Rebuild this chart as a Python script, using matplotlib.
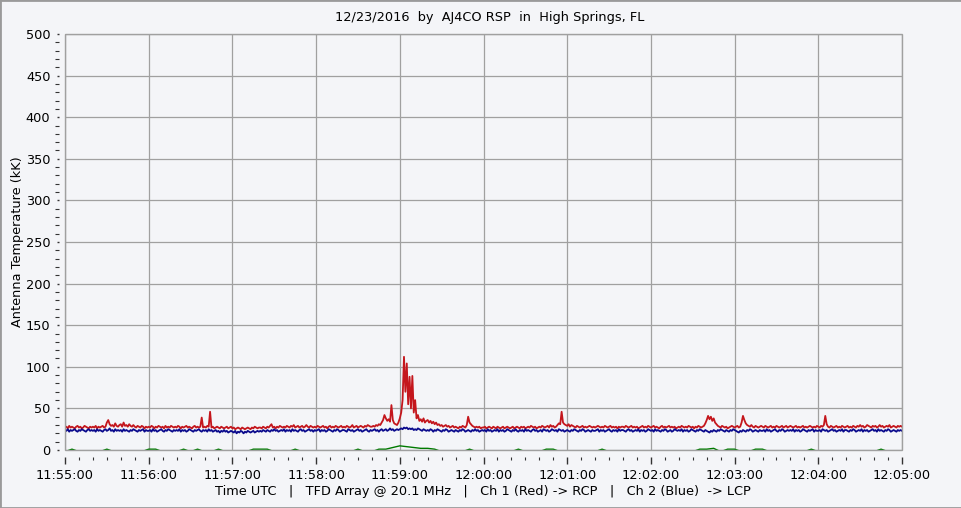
import matplotlib
matplotlib.use("Agg")
import matplotlib.pyplot as plt
import matplotlib.dates as mdates
from matplotlib.ticker import MultipleLocator
from matplotlib.patches import Rectangle
import datetime as dt

# ---- data (K, one sample per second starting 11:55:00) ----
red_k = [
    27,28,26,29,27,28,27,26,28,29,27,28,26,27,29,28,27,26,28,27,
    28,27,29,26,28,27,28,29,27,28,33,36,31,29,30,28,32,29,28,30,
    31,28,33,29,30,28,31,29,28,30,28,27,29,28,27,29,28,26,28,27,
    28,27,29,28,26,28,27,29,28,27,28,26,29,27,28,27,29,28,27,28,
    27,29,28,26,28,27,28,29,27,28,27,26,28,29,27,28,27,28,39,27,
    28,27,29,28,46,27,28,26,27,28,27,26,28,27,26,27,28,26,27,28,
    26,27,25,26,27,26,25,27,26,25,26,27,26,25,27,26,28,27,26,27,
    27,26,28,27,26,28,27,29,31,27,28,26,28,27,29,28,27,28,27,29,
    28,27,29,28,30,27,28,29,27,28,29,27,28,30,28,27,29,28,27,28,
    27,29,28,27,28,29,27,28,26,28,29,27,28,27,29,28,27,28,29,27,
    28,27,29,28,27,28,30,27,28,29,27,28,29,28,27,29,28,30,29,28,
    28,29,28,30,29,31,30,33,36,42,38,35,37,34,54,36,32,31,30,33,
    38,45,60,112,70,104,55,88,50,89,45,60,38,42,35,37,34,38,33,35,
    36,33,35,32,34,31,33,30,31,29,30,28,29,30,28,29,27,28,29,27,
    28,27,26,28,27,29,28,27,30,40,33,31,29,28,27,28,27,28,26,27,
    27,28,26,27,28,27,26,28,27,26,28,27,26,27,28,26,27,28,27,26,
    27,28,26,27,28,27,26,28,27,28,26,27,28,27,29,28,27,28,26,27,
    28,27,29,28,27,28,29,27,30,28,29,27,28,30,32,31,46,33,31,30,
    29,31,28,30,29,28,27,29,28,27,28,29,27,28,27,28,29,28,27,28,
    27,28,29,28,27,28,27,29,28,27,28,29,27,28,27,28,26,28,27,28,
    28,27,29,28,27,28,29,27,28,27,28,26,27,28,29,27,28,27,29,28,
    27,28,29,27,28,27,26,28,29,27,28,27,28,29,27,28,27,28,26,27,
    28,27,29,28,27,28,27,29,28,27,28,26,28,27,29,28,27,28,29,32,
    36,41,37,40,35,38,33,31,29,28,27,29,28,27,28,26,27,28,29,28,
    27,28,29,27,28,33,41,36,32,30,29,28,30,28,27,29,28,27,28,29,
    28,27,29,28,27,28,29,27,28,27,29,28,27,28,29,27,28,29,27,28,
    29,28,27,28,29,27,28,27,28,29,27,28,27,28,29,28,27,28,27,29,
    28,27,29,28,30,41,31,28,27,29,28,27,28,29,27,28,27,29,28,27,
    28,29,27,28,27,29,28,27,29,28,30,28,29,27,28,30,29,28,27,29,
    28,29,27,28,30,28,29,27,28,29,28,30,27,28,29,28,27,29,28,29,
    28,
]

blue_k = [
    24,23,25,22,24,23,24,25,23,22,24,23,25,24,23,22,24,25,23,24,
    23,24,22,25,23,24,23,22,24,25,23,24,26,23,24,22,25,23,24,23,
    24,22,25,23,24,23,22,24,23,25,24,23,22,24,23,24,25,22,24,23,
    23,24,22,25,23,24,22,23,24,25,23,22,24,23,25,24,23,22,24,23,
    24,23,25,22,24,23,24,22,23,25,24,23,22,24,23,24,25,23,22,24,
    23,24,22,25,23,24,22,23,24,22,23,21,23,22,24,22,23,21,22,23,
    22,21,23,20,22,21,23,22,20,22,21,23,22,21,22,23,21,22,23,22,
    23,22,24,23,22,24,23,22,24,23,25,23,24,22,23,24,23,25,22,24,
    23,24,22,25,23,24,23,22,24,25,23,24,22,23,24,25,23,24,22,24,
    23,24,25,22,24,23,24,22,23,25,24,23,22,24,23,25,24,22,23,24,
    24,23,22,25,24,23,24,22,23,24,25,23,24,22,23,24,25,23,22,24,
    23,24,25,23,24,22,24,25,23,24,25,23,24,26,24,25,23,24,25,24,
    25,26,25,27,26,27,25,26,25,26,24,25,24,26,25,24,23,25,24,23,
    24,23,25,24,22,24,23,25,24,23,22,24,23,25,24,22,23,24,23,22,
    24,23,22,24,23,25,24,22,23,24,23,22,24,23,25,23,24,22,23,24,
    23,24,22,25,23,24,22,23,24,23,25,22,24,23,24,22,23,25,24,23,
    22,24,23,25,23,22,24,23,24,22,25,23,24,23,22,24,25,23,24,22,
    23,24,22,25,24,23,24,22,23,25,24,23,24,22,25,24,23,24,22,23,
    24,23,22,24,23,25,24,23,22,24,23,25,24,22,23,24,23,22,24,23,
    23,24,25,22,24,23,24,22,23,24,25,23,22,24,23,24,22,25,23,24,
    24,23,22,24,25,23,24,22,23,24,23,25,22,24,23,24,22,23,25,24,
    23,24,22,25,23,24,23,22,24,23,25,24,22,23,24,22,23,25,24,23,
    24,23,25,22,24,23,24,22,23,25,24,23,22,24,23,25,24,23,22,24,
    23,22,21,23,22,24,23,22,24,23,25,24,23,22,24,23,22,24,23,25,
    24,23,22,21,23,22,24,23,22,24,23,25,24,22,23,24,23,22,24,23,
    23,24,22,25,23,24,22,23,24,25,23,22,24,23,25,24,22,23,24,23,
    24,23,25,22,24,23,24,22,23,25,24,23,22,24,23,24,25,22,24,23,
    23,24,22,25,24,23,24,22,23,24,25,23,24,22,23,24,23,25,22,24,
    24,23,22,24,23,25,24,22,23,24,23,25,22,24,23,24,22,23,24,25,
    23,24,22,25,23,24,23,22,24,23,25,24,22,23,24,23,22,24,23,24,
    23,
]

# green channel, one sample per 5 s (negative = below the plotted range)
green_k = [
    -2,1,-2,-2,-2,-2,1,-2,-2,-2,-2,-2,1,1,-2,-2,-2,1,-2,1,
    -2,-2,1,-2,-2,-2,-2,1,1,1,-2,-2,-2,1,-2,-2,-2,-2,-2,-2,
    -2,-2,1,-2,-2,1,1,3,5,4,3,2,2,1,-2,-2,-2,-2,1,-2,
    -2,-2,-2,-2,-2,1,-2,-2,-2,1,1,-2,-2,-2,-2,-2,-2,1,-2,-2,
    -2,-2,-2,-2,-2,-2,-2,-2,-2,-2,-2,1,1,2,-2,1,1,-2,-2,1,
    1,-2,-2,-2,-2,-2,-2,1,-2,-2,-2,-2,-2,-2,-2,-2,-2,1,-2,-2,
    -2,
]

y_ticks = [0, 50, 100, 150, 200, 250, 300, 350, 400, 450, 500]
title_text = "12/23/2016  by  AJ4CO RSP  in  High Springs, FL"
xlabel_text = "Time UTC   |   TFD Array @ 20.1 MHz   |   Ch 1 (Red) -> RCP   |   Ch 2 (Blue)  -> LCP"
ylabel_text = "Antenna Temperature (kK)"

start = dt.datetime(2016, 12, 23, 11, 55, 0)
t1 = [start + dt.timedelta(seconds=i) for i in range(len(red_k))]
t5 = [start + dt.timedelta(seconds=5 * i) for i in range(len(green_k))]

bg = "#F4F5F8"
gridc = "#A0A0A0"

plt.rcParams['font.family'] = ['DejaVu Sans']
fig = plt.figure(figsize=(9.62, 5.08), dpi=100, facecolor=bg)
ax = fig.add_axes([65 / 962, 58 / 508, 837 / 962, 416 / 508])
ax.set_facecolor(bg)

ax.plot(t1, red_k, color="#C4161C", lw=1.3, zorder=3)
ax.plot(t1, blue_k, color="#0A0A8C", lw=1.3, zorder=4)
ax.plot(t5, green_k, color="#007A00", lw=1.0, zorder=2)

ax.set_xlim(start, start + dt.timedelta(minutes=10))
ax.set_ylim(0, 500)
ax.set_yticks(y_ticks)
ax.yaxis.set_minor_locator(MultipleLocator(10))
ax.xaxis.set_major_locator(mdates.MinuteLocator(interval=1))
ax.xaxis.set_minor_locator(mdates.SecondLocator(bysecond=range(0, 60, 10)))
ax.xaxis.set_major_formatter(mdates.DateFormatter("%H:%M:%S"))

ax.grid(True, which="major", color=gridc, lw=0.9, zorder=1)
for s in ax.spines.values():
    s.set_visible(False)
ax.spines['left'].set_position(('outward', 4))
ax.spines['bottom'].set_position(('outward', 5))
ax.add_patch(Rectangle((0, 0), 1, 1, transform=ax.transAxes, fill=False,
                       edgecolor=gridc, lw=1.0, zorder=5, clip_on=False))

ax.tick_params(axis='y', which='major', length=1.5, width=1, color="#333333",
               labelsize=9.3, pad=5)
ax.tick_params(axis='y', which='minor', length=3, width=0.8, color="#333333")
ax.tick_params(axis='x', which='major', length=5, width=1, color="#333333",
               labelsize=9.3, pad=4)
ax.tick_params(axis='x', which='minor', length=2, width=0.8, color="#333333")

fig.text(490 / 962, 1 - 18 / 508, title_text, ha='center', va='center', fontsize=9.3)
fig.text(483 / 962, 1 - 491 / 508, xlabel_text, ha='center', va='center', fontsize=9.3)
fig.text(18 / 962, 1 - 242 / 508, ylabel_text, ha='center', va='center',
         rotation=90, fontsize=9.3)

fig.add_artist(Rectangle((0, 0), 1, 1, transform=fig.transFigure, fill=False,
                         edgecolor="#9A9A9A", lw=2))

fig.savefig("out.png", dpi=100, facecolor=bg)
